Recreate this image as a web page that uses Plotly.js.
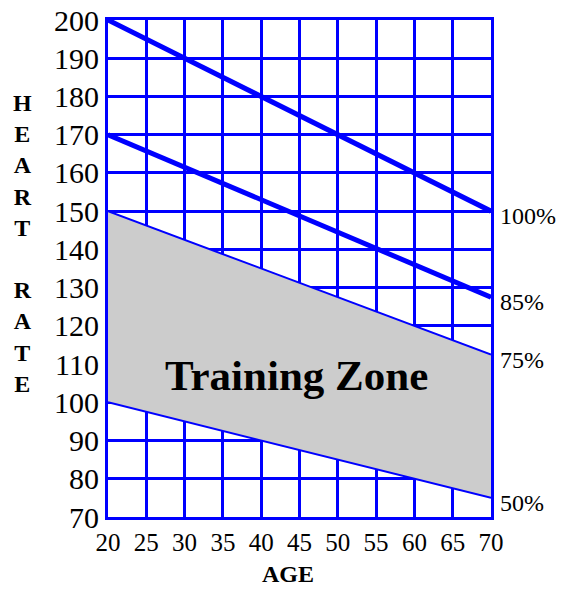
<!DOCTYPE html>
<html>
<head>
<meta charset="utf-8">
<script src="https://cdn.plot.ly/plotly-3.0.1.min.js"></script>
<style>
html,body{margin:0;padding:0;background:#fff;}
#chart{width:561px;height:591px;}
</style>
</head>
<body>
<div id="chart"></div>
<script>
// Data
var ages = [20, 70];
var hr100 = [200, 150];
var hr85 = [170, 127.5];
var hr75 = [150, 112.5];
var hr50 = [100, 75];
var zoneLabels = ["100%", "85%", "75%", "50%"];
var xTicks = [20, 25, 30, 35, 40, 45, 50, 55, 60, 65, 70];
var yTicks = [70, 80, 90, 100, 110, 120, 130, 140, 150, 160, 170, 180, 190, 200];

var blue = "#0000ff";
var serif = "Liberation Serif, Times New Roman, serif";

var traces = [
  {x: ages, y: hr50, mode: "lines", line: {color: blue, width: 2}, hoverinfo: "skip"},
  {x: ages, y: hr75, mode: "lines", line: {color: blue, width: 2}, fill: "tonexty", fillcolor: "#cccccc", hoverinfo: "skip"},
  {x: ages, y: hr85, mode: "lines", line: {color: blue, width: 5}, hoverinfo: "skip"},
  {x: ages, y: hr100, mode: "lines", line: {color: blue, width: 5}, hoverinfo: "skip"}
];

var endVals = [hr100[1], hr85[1], hr75[1], hr50[1]];
var annotations = zoneLabels.map(function (t, i) {
  return {x: ages[1], y: endVals[i], xref: "x", yref: "y", text: t, showarrow: false,
    xanchor: "left", yanchor: "middle", xshift: 7, yshift: -5,
    font: {family: serif, size: 24, color: "#000"}};
});
annotations.push({x: 44.6, y: 107, xref: "x", yref: "y", text: "<b>Training Zone</b>", showarrow: false,
  xanchor: "center", yanchor: "middle", font: {family: serif, size: 43, color: "#000"}});
annotations.push({x: 22, y: 243, xref: "paper", yref: "paper", text: "<b>H<br>E<br>A<br>R<br>T<br> <br>R<br>A<br>T<br>E</b>", showarrow: false,
  xanchor: "center", yanchor: "middle", font: {family: serif, size: 24, color: "#000"}});
annotations.push({x: 288, y: 575, xref: "paper", yref: "paper", text: "<b>AGE</b>", showarrow: false,
  xanchor: "center", yanchor: "middle", font: {family: serif, size: 24, color: "#000"}});

// convert pixel-positioned paper annotations
var L = 107.5, R = 70, T = 19.5, B = 73.5, W = 561, H = 591;
var pw = W - L - R, ph = H - T - B;
annotations.forEach(function (a) {
  if (a.xref === "paper") {
    a.x = (a.x - L) / pw;
    a.y = 1 - (a.y - T) / ph;
  }
});

var layout = {
  width: W, height: H,
  margin: {l: L, r: R, t: T, b: B, pad: 0},
  paper_bgcolor: "#fff", plot_bgcolor: "#fff",
  showlegend: false,
  xaxis: {range: [20, 70], tickvals: xTicks, ticktext: xTicks.map(String),
    showgrid: true, gridcolor: blue, gridwidth: 3, zeroline: false,
    showline: true, linecolor: blue, linewidth: 3, mirror: true,
    ticks: "", ticklabelstandoff: 1,
    tickfont: {family: serif, size: 25, color: "#000"}, fixedrange: true},
  yaxis: {range: [70, 200], tickvals: yTicks, ticktext: yTicks.map(String),
    showgrid: true, gridcolor: blue, gridwidth: 3, zeroline: false,
    showline: true, linecolor: blue, linewidth: 3, mirror: true,
    ticks: "", ticklabelstandoff: 0,
    tickfont: {family: serif, size: 30, color: "#000"}, fixedrange: true},
  annotations: annotations
};

Plotly.newPlot("chart", traces, layout, {displayModeBar: false, staticPlot: true});
</script>
</body>
</html>
